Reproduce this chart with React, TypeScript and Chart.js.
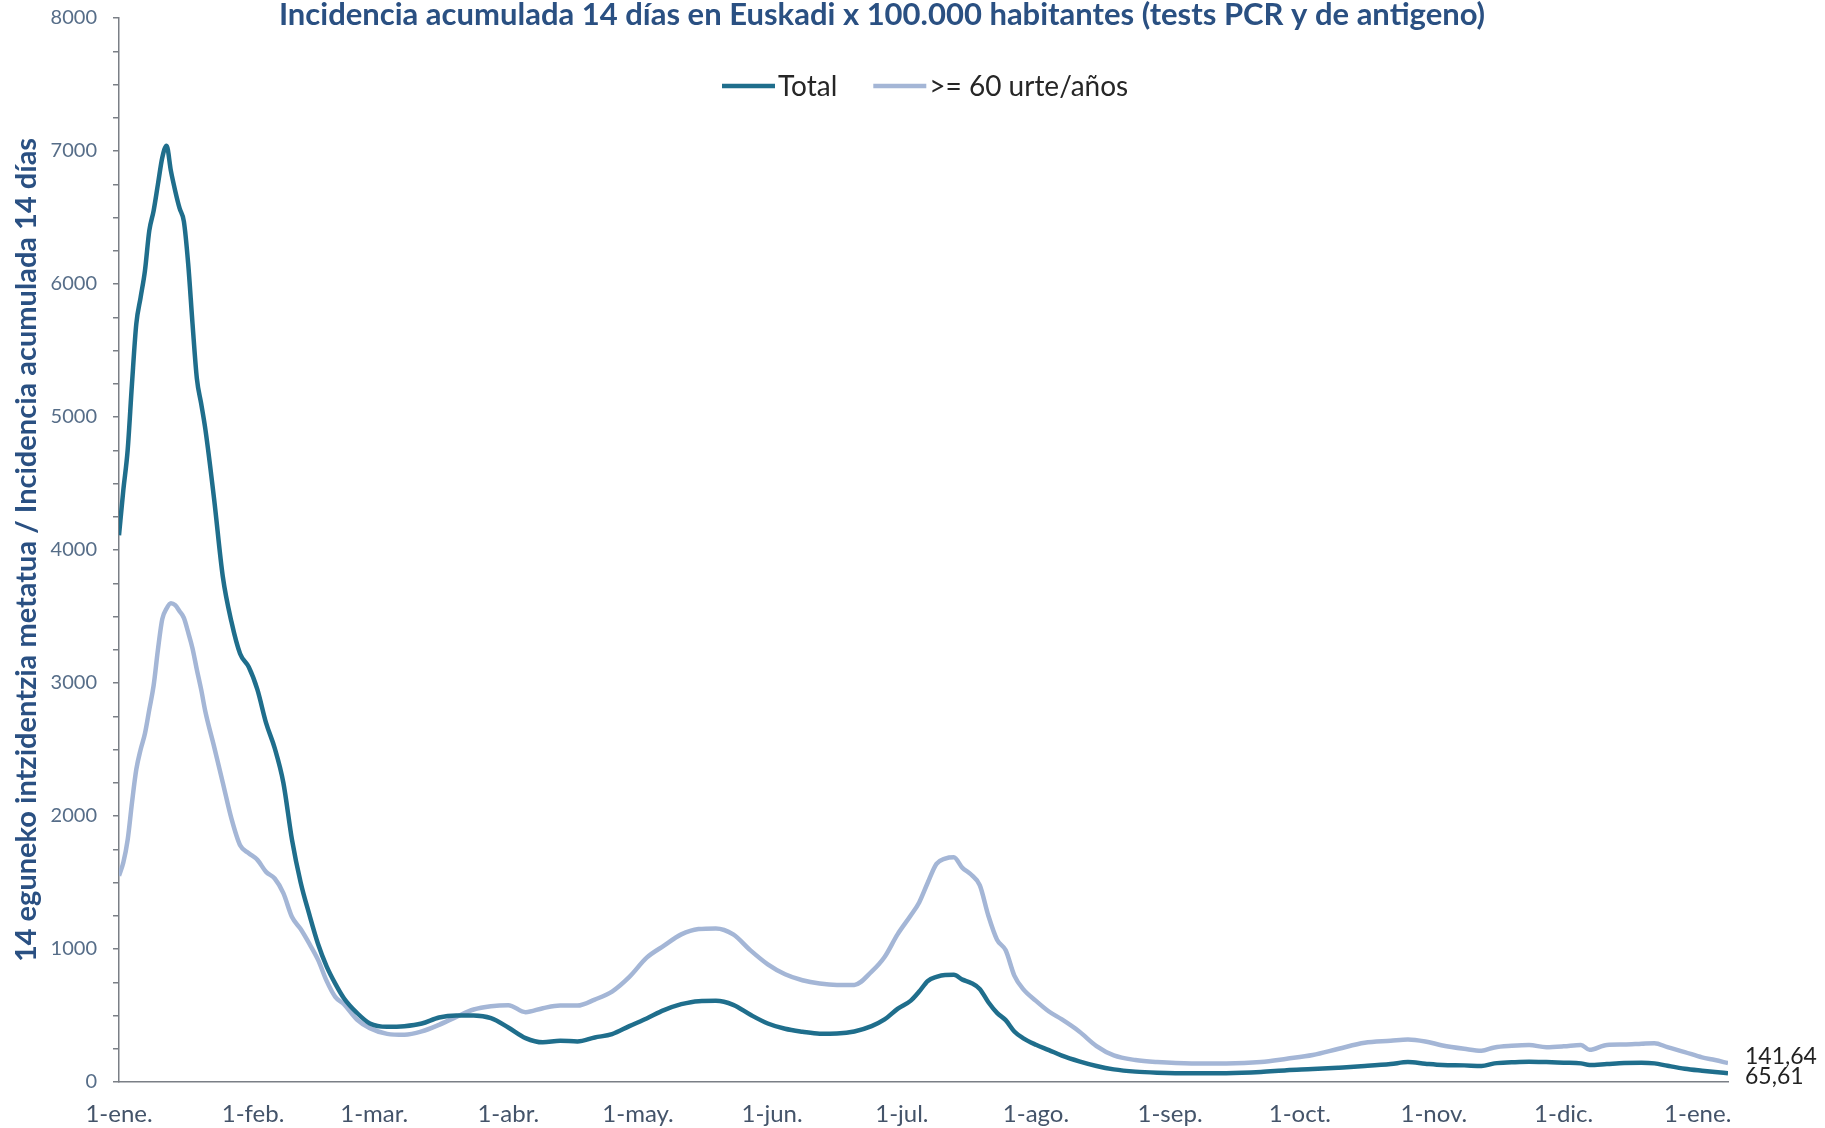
import React, { useEffect, useRef } from 'react';
import { Chart, registerables } from 'chart.js';

Chart.register(...registerables);

const W = 1825;
const H = 1128;

// Day offsets from 1 January
const days = [
  0, 1, 2, 3, 4, 5, 6, 7, 8, 9, 10, 11, 12, 13, 14, 15, 16, 17, 18, 19, 20, 22, 24, 26, 28, 30,
  32, 34, 36, 38, 40, 42, 44, 46, 48, 50, 52, 55, 58, 62, 66, 70, 74, 78, 82, 86, 90, 94, 98, 102,
  106, 110, 114, 118, 122, 126, 130, 134, 138, 142, 146, 150, 154, 158, 162, 166, 170, 174, 177,
  180, 183, 185, 187, 189, 191, 193, 195, 197, 199, 201, 203, 205, 207, 209, 212, 215, 218, 222,
  226, 230, 235, 240, 248, 256, 264, 270, 276, 282, 288, 294, 298, 302, 306, 311, 315, 318, 322,
  326, 330, 334, 338, 340, 344, 348, 352, 355, 358, 362, 366, 369, 372,
];

const totalValues = [
  4110, 4450, 4750, 5250, 5700, 5900, 6100, 6400, 6550, 6750, 6950, 7040, 6850, 6700, 6570, 6470,
  6150, 5700, 5290, 5100, 4900, 4380, 3800, 3460, 3220, 3120, 2950, 2700, 2510, 2250, 1820, 1500,
  1260, 1040, 870, 740, 630, 520, 440, 415, 420, 440, 485, 500, 500, 480, 410, 330, 298, 310, 305,
  335, 360, 420, 478, 540, 585, 608, 610, 580, 505, 440, 400, 378, 363, 365, 380, 420, 470, 550,
  610, 680, 760, 790, 805, 806, 770, 745, 700, 600, 520, 465, 380, 330, 280, 240, 198, 155, 120,
  95, 78, 70, 65, 66, 75, 88, 97, 108, 120, 135, 150, 138, 128, 125, 120, 140, 148, 153, 150, 145,
  140, 128, 135, 142, 145, 140, 122, 100, 85, 75, 65.61,
];

const seniorValues = [
  1550, 1650, 1820, 2100, 2350, 2500, 2620, 2800, 2980, 3250, 3480, 3560, 3600, 3585, 3540, 3490,
  3380, 3260, 3100, 2950, 2780, 2520, 2250, 1980, 1780, 1720, 1670, 1580, 1530, 1420, 1240, 1150,
  1040, 920, 760, 640, 585, 470, 405, 362, 355, 380, 430, 490, 545, 570, 578, 525, 555, 575, 575,
  620, 680, 790, 935, 1025, 1110, 1150, 1155, 1110, 990, 885, 810, 765, 740, 730, 730, 830, 940,
  1110, 1250, 1350, 1500, 1640, 1680, 1690, 1610, 1560, 1480, 1250, 1070, 990, 800, 700, 610, 530,
  470, 380, 270, 200, 165, 150, 140, 140, 150, 175, 203, 250, 295, 310, 320, 305, 275, 250, 235,
  260, 272, 278, 262, 268, 279, 242, 279, 282, 288, 292, 262, 225, 185, 165, 141.64,
];

const monthTickDays = [0, 31, 59, 90, 120, 151, 181, 212, 243, 273, 304, 334, 365];
const monthTickLabels = [
  '1-ene.', '1-feb.', '1-mar.', '1-abr.', '1-may.', '1-jun.', '1-jul.',
  '1-ago.', '1-sep.', '1-oct.', '1-nov.', '1-dic.', '1-ene.',
];
const seriesLabels = ['Total', '>= 60 urte/años'];
const titleText =
  'Incidencia acumulada 14 días en Euskadi x 100.000 habitantes (tests PCR y de antigeno)';
const yAxisTitle = '14 eguneko intzidentzia metatua / Incidencia acumulada 14 días';

const Y_MAX = 8000;
const Y_STEP = 250;
const Y_LABEL_STEP = 1000;
const X_MAX = 372;

const COLOR_TOTAL = '#1f6e8c';
const COLOR_SENIOR = '#a4b6d6';
const COLOR_AXIS = '#7a7f86';
const COLOR_TITLE = '#2a5082';
const FONT = 'Lato';

const overlayPlugin = {
  id: 'overlay',
  afterDraw(chart: any) {
    const ctx = chart.ctx as CanvasRenderingContext2D;
    ctx.save();
    // Title
    ctx.font = `bold 31px ${FONT}`;
    ctx.fillStyle = COLOR_TITLE;
    ctx.textAlign = 'center';
    ctx.textBaseline = 'alphabetic';
    ctx.fillText(titleText, 882, 25);

    // Legend
    ctx.font = `28px ${FONT}`;
    ctx.textAlign = 'left';
    ctx.textBaseline = 'middle';
    let x = 722;
    const ly = 86;
    chart.data.datasets.forEach((ds: any) => {
      ctx.strokeStyle = ds.borderColor;
      ctx.lineWidth = 4.5;
      ctx.lineCap = 'butt';
      ctx.beginPath();
      ctx.moveTo(x, ly);
      ctx.lineTo(x + 53, ly);
      ctx.stroke();
      x += 56;
      ctx.fillStyle = '#262626';
      ctx.fillText(ds.label, x, ly + 1);
      x += ctx.measureText(ds.label).width + 36;
    });

    // End value labels
    ctx.font = `23px ${FONT}`;
    ctx.fillStyle = '#222222';
    ctx.textBaseline = 'middle';
    const offsets = [3, -7];
    chart.data.datasets.forEach((ds: any, i: number) => {
      const meta = chart.getDatasetMeta(i);
      const el = meta.data[meta.data.length - 1];
      const val = ds.data[ds.data.length - 1].y as number;
      const txt = val.toFixed(2).replace('.', ',');
      ctx.fillText(txt, el.x + 17, el.y + offsets[i]);
    });
    ctx.restore();
  },
};

export default function App() {
  const canvasRef = useRef<HTMLCanvasElement | null>(null);

  useEffect(() => {
    const canvas = canvasRef.current;
    if (!canvas) return;
    const chart = new Chart(canvas, {
      type: 'line',
      data: {
        datasets: [
          {
            label: seriesLabels[0],
            data: days.map((d, i) => ({ x: d, y: totalValues[i] })),
            borderColor: COLOR_TOTAL,
            backgroundColor: COLOR_TOTAL,
            borderWidth: 4.5,
            pointRadius: 0,
            cubicInterpolationMode: 'monotone',
            fill: false,
          },
          {
            label: seriesLabels[1],
            data: days.map((d, i) => ({ x: d, y: seniorValues[i] })),
            borderColor: COLOR_SENIOR,
            backgroundColor: COLOR_SENIOR,
            borderWidth: 4.5,
            pointRadius: 0,
            cubicInterpolationMode: 'monotone',
            fill: false,
          },
        ],
      },
      options: {
        responsive: false,
        animation: false,
        devicePixelRatio: 1,
        layout: { padding: { top: 18, right: 97, left: 0, bottom: 0 } },
        plugins: {
          legend: { display: false },
          title: { display: false },
          tooltip: { enabled: false },
        },
        scales: {
          x: {
            type: 'linear',
            min: 0,
            max: X_MAX,
            afterBuildTicks: (s: any) => {
              s.ticks = monthTickDays.map((v) => ({ value: v }));
            },
            afterFit: (s: any) => {
              s.height = 46;
            },
            grid: { display: false, drawTicks: false },
            border: { display: true, color: COLOR_AXIS, width: 1.5 },
            ticks: {
              autoSkip: false,
              maxRotation: 0,
              minRotation: 0,
              padding: 18,
              color: '#44546a',
              font: { family: FONT, size: 24 },
              callback: (_v: any, idx: number) => monthTickLabels[idx],
            },
          },
          y: {
            type: 'linear',
            min: 0,
            max: Y_MAX,
            afterFit: (s: any) => {
              s.width = 119;
              s.paddingTop = 0;
              s.paddingBottom = 0;
            },
            grid: {
              display: true,
              drawOnChartArea: false,
              drawTicks: true,
              tickLength: 6,
              color: COLOR_AXIS,
              lineWidth: 1.5,
            },
            border: { display: true, color: COLOR_AXIS, width: 1.5 },
            ticks: {
              stepSize: Y_STEP,
              autoSkip: false,
              padding: 16,
              color: '#566d88',
              font: { family: FONT, size: 20 },
              callback: (v: any) => (Number(v) % Y_LABEL_STEP === 0 ? String(v) : ''),
            },
            title: {
              display: true,
              text: yAxisTitle,
              color: COLOR_TITLE,
              font: { family: FONT, size: 29, weight: 'bold' },
              padding: { top: 9, bottom: 0 },
            },
          },
        },
      } as any,
      plugins: [overlayPlugin],
    });
    return () => chart.destroy();
  }, []);

  return (
    <div style={{ position: 'absolute', left: 0, top: 0, width: W, height: H, background: '#ffffff' }}>
      <canvas ref={canvasRef} width={W} height={H} style={{ display: 'block', width: W, height: H }} />
    </div>
  );
}
